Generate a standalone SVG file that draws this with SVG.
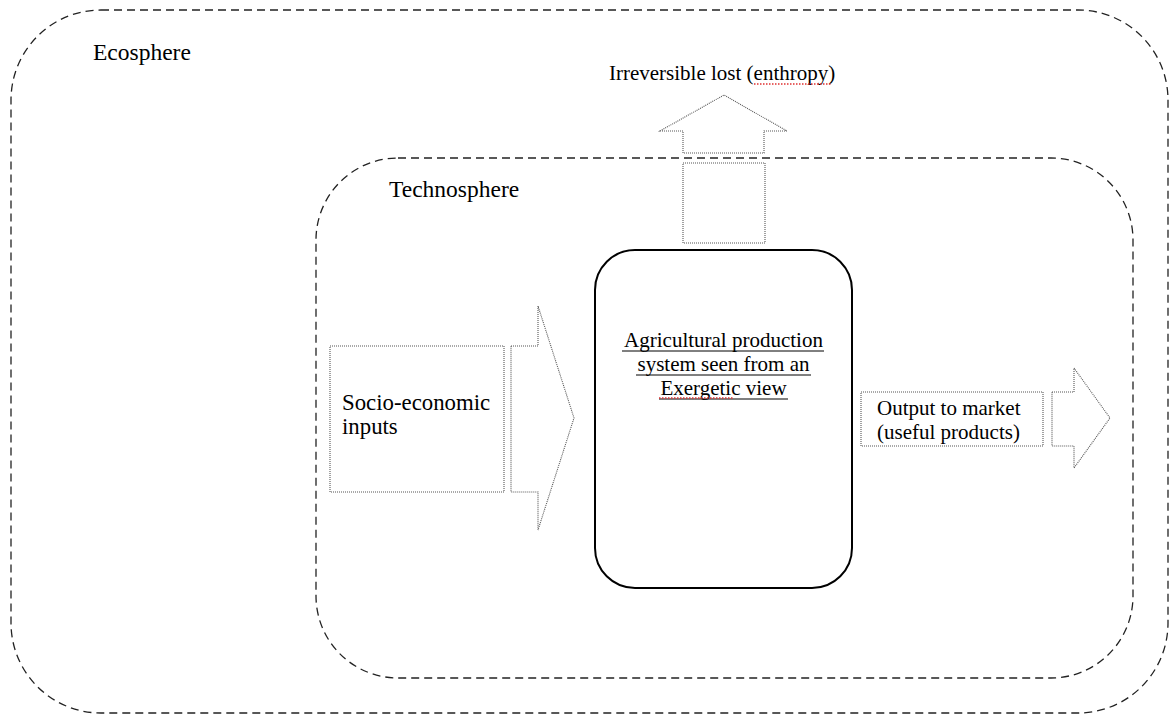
<svg xmlns="http://www.w3.org/2000/svg" width="1175" height="715" viewBox="0 0 1175 715">
<style>
.sphere{fill:none;stroke:#222;stroke-width:1.3;stroke-dasharray:8 5}
.dot{fill:#fff;stroke:#555;stroke-width:1.1;stroke-dasharray:1 1}
.main{fill:#fff;stroke:#000;stroke-width:2}
.t{font-family:"Liberation Serif","Times New Roman",serif;fill:#000}
.sq{stroke:#e03030;stroke-width:1.3;stroke-dasharray:1.5 1.5;fill:none}
.ul{stroke:#000;stroke-width:1;fill:none}
</style>
<rect width="1175" height="715" fill="#fff"/>
<g id="ecosphere">
<rect class="sphere" x="11" y="10" width="1157" height="703" rx="90" ry="90"/>
<text class="t" x="93" y="60" font-size="23.5">Ecosphere</text>
</g>
<g id="technosphere">
<rect class="sphere" x="316" y="158" width="817" height="520" rx="82" ry="82"/>
<text class="t" x="389" y="197" font-size="23.5">Technosphere</text>
</g>
<g id="connectors">
<polygon class="dot" points="660,131 724,95 787,131 764,131 764,153 683,153 683,131"/>
<rect class="dot" x="683" y="163" width="82" height="80"/>
<polygon class="dot" points="511,346 538,346 538,306 574,418 538,530 538,492 511,492"/>
<polygon class="dot" points="1052,392 1074,392 1074,368 1110,418 1074,468 1074,446 1052,446"/>
</g>
<g id="entropy">
<text class="t" x="609" y="80" font-size="21">Irreversible lost (enthropy)</text>
<path class="sq" d="M754,84 L831,84"/>
</g>
<g id="inputs">
<rect class="dot" x="330" y="346" width="174" height="146"/>
<text class="t" x="342" y="410" font-size="22.8">Socio-economic</text>
<text class="t" x="342" y="434" font-size="22.8">inputs</text>
</g>
<g id="system">
<rect class="main" x="595" y="250" width="257" height="338" rx="40" ry="40"/>
<text class="t" x="723.5" y="347" font-size="21" text-anchor="middle">Agricultural production</text>
<text class="t" x="723.5" y="371" font-size="21" text-anchor="middle">system seen from an</text>
<text class="t" x="723.5" y="395" font-size="21" text-anchor="middle">Exergetic view</text>
<path class="ul" d="M622,351 H824 M636,375 H811 M659,399 H788"/>
<path class="sq" d="M659,398 L734,398"/>
</g>
<g id="output">
<rect class="dot" x="861" y="392" width="182" height="54"/>
<text class="t" x="877" y="415" font-size="21">Output to market</text>
<text class="t" x="877" y="439" font-size="21">(useful products)</text>
</g>
</svg>
